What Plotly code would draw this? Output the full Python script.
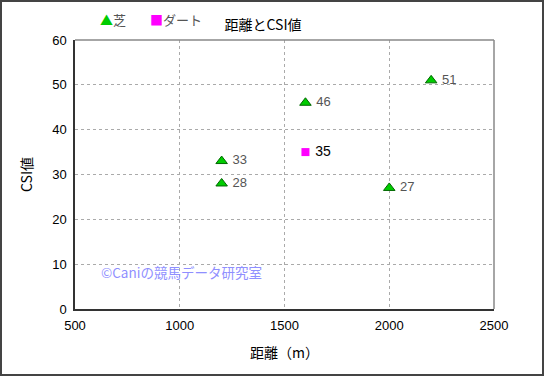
import plotly.graph_objects as go

turf_x = [1200, 1200, 1600, 2000, 2200]
turf_y = [33, 28, 46, 27, 51]
dirt_x = [1600]
dirt_y = [35]
x_ticks = [500, 1000, 1500, 2000, 2500]
y_ticks = [0, 10, 20, 30, 40, 50, 60]

JP = "Noto Sans CJK JP, Liberation Sans, sans-serif"
L, R, T, B = 75, 51, 40, 68
W, H = 545, 377
pw, ph = W - L - R, H - T - B

fig = go.Figure()
fig.add_trace(go.Scatter(
    x=turf_x, y=turf_y, mode="markers+text", name="芝",
    text=[" " + str(v) for v in turf_y], textposition="middle right",
    textfont=dict(color="#555555", size=13, family="Liberation Sans, Arial"),
    marker=dict(symbol="triangle-up", size=10, color="#00cc00",
                line=dict(color="#006600", width=1)),
))
fig.add_trace(go.Scatter(
    x=dirt_x, y=dirt_y, mode="markers+text", name="ダート",
    text=[" " + str(v) for v in dirt_y], textposition="middle right",
    textfont=dict(color="#000000", size=14, family="Liberation Sans, Arial"),
    marker=dict(symbol="square", size=8, color="#ff00ff",
                line=dict(color="#ff00ff", width=0)),
))

def px_x(p):
    return (p - L) / pw

def px_y(p):
    return (H - B - p) / ph

shapes = [
    dict(type="rect", xref="paper", yref="paper",
         x0=px_x(1), x1=px_x(W - 2), y0=px_y(H - 2), y1=px_y(1),
         line=dict(color="#444444", width=2), layer="below"),
    dict(type="line", xref="paper", yref="paper", x0=0, x1=1, y0=1, y1=1,
         line=dict(color="#888888", width=1.5)),
    dict(type="line", xref="paper", yref="paper", x0=1, x1=1, y0=0, y1=1,
         line=dict(color="#888888", width=1.5)),
]

annotations = [
    dict(text="©Caniの競馬データ研究室", xref="paper", yref="paper",
         x=px_x(99), y=px_y(272), xanchor="left", yanchor="middle",
         showarrow=False, font=dict(size=13.5, color="#8f8fff", family=JP)),
    dict(text="<span style='color:#00cc00'>▲</span>芝", xref="paper", yref="paper",
         x=px_x(98), y=px_y(19), xanchor="left", yanchor="middle",
         showarrow=False, font=dict(size=13, color="#555555", family=JP)),
    dict(text="<span style='color:#ff00ff'>■</span>ダート", xref="paper", yref="paper",
         x=px_x(148), y=px_y(19), xanchor="left", yanchor="middle",
         showarrow=False, font=dict(size=13, color="#555555", family=JP)),
]

fig.update_layout(
    width=W, height=H,
    margin=dict(l=L, r=R, t=T, b=B, autoexpand=False),
    paper_bgcolor="white", plot_bgcolor="white",
    font=dict(family=JP, color="#000000", size=12),
    title=dict(text="距離とCSI値", x=px_x(263), xanchor="center", xref="paper",
               y=1 - 25 / H, yanchor="middle",
               font=dict(size=14, family=JP, color="#000000")),
    showlegend=False,
    xaxis=dict(range=[500, 2500], tickvals=x_ticks,
               showgrid=True, gridcolor="#aaaaaa", griddash="dot", gridwidth=1,
               showline=True, linecolor="#333333", linewidth=1.5,
               zeroline=False, ticks="", automargin=False, ticklabelstandoff=4,
               tickfont=dict(size=13, family="Liberation Sans, Arial", color="#000"),
               title=dict(text="距離（m）", font=dict(size=14, family=JP), standoff=16)),
    yaxis=dict(range=[0, 60], tickvals=y_ticks,
               showgrid=True, gridcolor="#aaaaaa", griddash="dot", gridwidth=1,
               showline=True, linecolor="#333333", linewidth=1.5,
               zeroline=False, ticks="", automargin=False, ticklabelstandoff=4,
               tickfont=dict(size=13, family="Liberation Sans, Arial", color="#000"),
               title=dict(text="CSI値", font=dict(size=14, family=JP), standoff=16)),
    shapes=shapes,
    annotations=annotations,
)

fig.write_html("out.html", config={"displayModeBar": False},
               post_script="document.body.style.margin='0';")
